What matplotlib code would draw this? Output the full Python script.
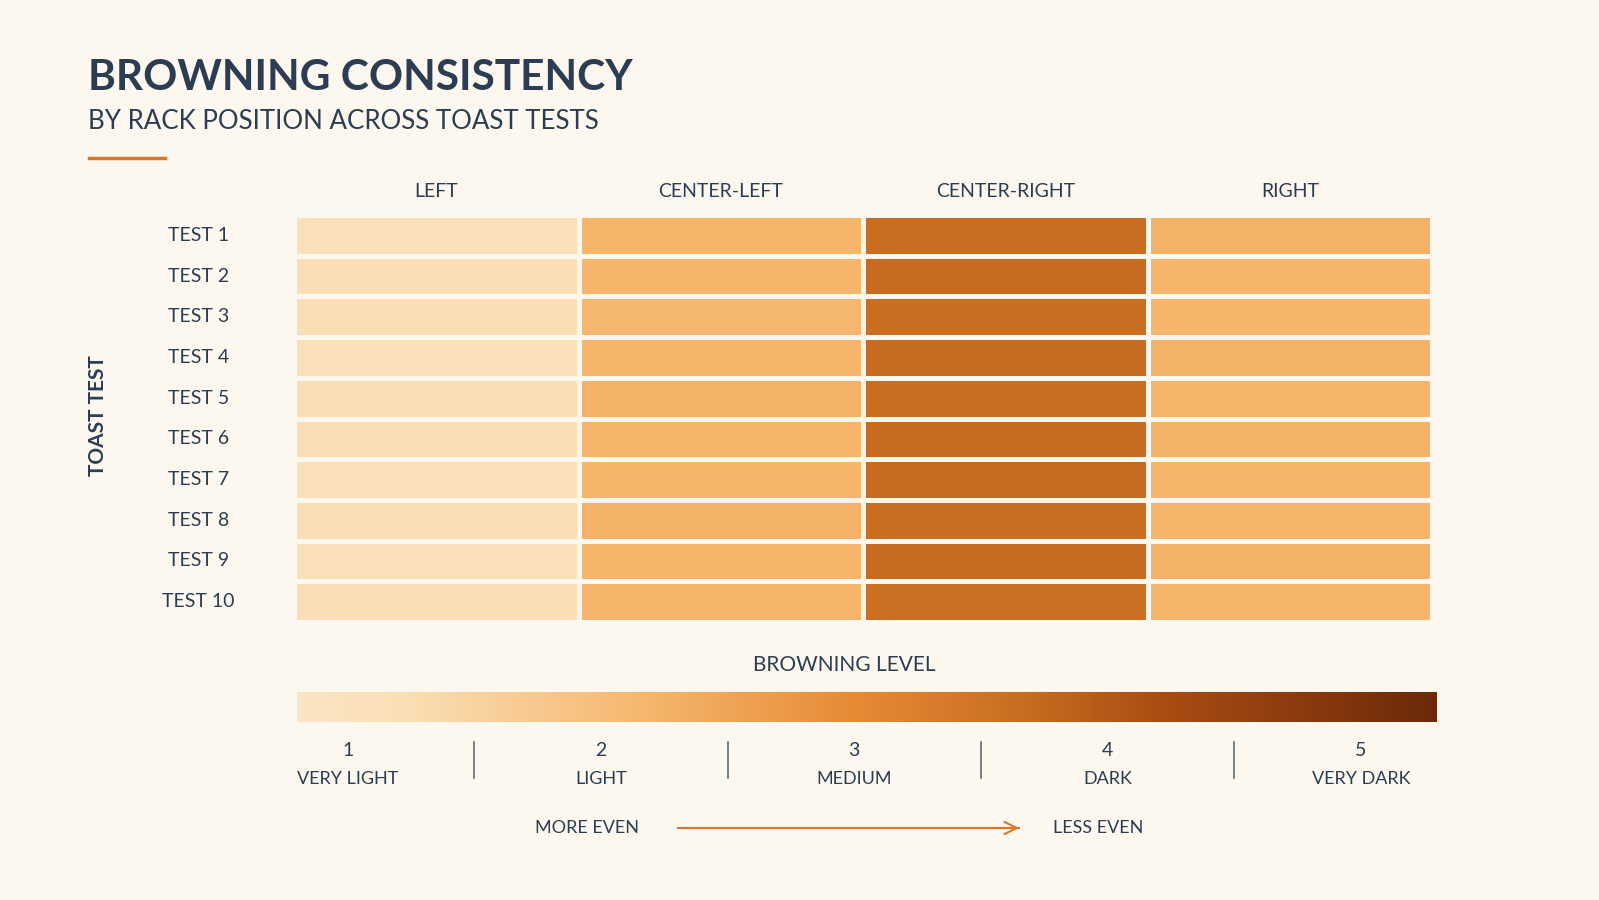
import numpy as np
import matplotlib.pyplot as plt
from matplotlib.colors import LinearSegmentedColormap, Normalize
from matplotlib.colorbar import ColorbarBase

plt.rcParams['font.family'] = ['Lato', 'DejaVu Sans']

# data
positions = ["LEFT", "CENTER-LEFT", "CENTER-RIGHT", "RIGHT"]
tests = ["TEST %d" % i for i in range(1, 11)]
left = [1.15, 1.2, 1.2, 1.15, 1.2, 1.2, 1.15, 1.2, 1.15, 1.2]
center_left = [2.2, 2.2, 2.15, 2.2, 2.25, 2.2, 2.2, 2.25, 2.2, 2.2]
center_right = [3.65, 3.7, 3.65, 3.7, 3.65, 3.7, 3.7, 3.65, 3.7, 3.6]
right = [2.25, 2.2, 2.2, 2.25, 2.2, 2.25, 2.2, 2.2, 2.25, 2.2]
levels = [1, 2, 3, 4, 5]
level_names = ["VERY LIGHT", "LIGHT", "MEDIUM", "DARK", "VERY DARK"]

BG = "#fcf8f0"
INK = "#2c3d52"
ACCENT = "#d9772b"

vmin, vmax = 0.8, 5.3
stops = [(0.8, "#fbe4c3"), (1.2, "#fadfb6"), (2.2, "#f5b56b"), (3.0, "#e68a34"),
         (3.65, "#c96e21"), (4.2, "#aa4d13"), (5.3, "#6c290a")]
cmap = LinearSegmentedColormap.from_list(
    "toast", [((v - vmin) / (vmax - vmin), c) for v, c in stops])
norm = Normalize(vmin, vmax)

grid = np.array([left, center_left, center_right, right]).T

fig = plt.figure(figsize=(15.99, 9), dpi=100, facecolor=BG)

# titles
fig.text(0.055, 0.9135, "BROWNING CONSISTENCY", fontsize=30.5, fontweight="bold",
         color=INK, va="center", ha="left")
fig.text(0.055, 0.8645, "BY RACK POSITION ACROSS TOAST TESTS", fontsize=18.6,
         color=INK, va="center", ha="left")
fig.add_artist(plt.Line2D([0.0555, 0.103], [0.8245, 0.8245], color=ACCENT, lw=2.5))

# heatmap
ax = fig.add_axes([0.1839, 0.3089, 0.7117, 0.4522])
ax.set_facecolor(BG)
ax.pcolormesh(grid, cmap=cmap, norm=norm, edgecolors=BG, linewidth=3.5)
ax.set_xlim(0, 4)
ax.set_ylim(10, 0)
for s in ax.spines.values():
    s.set_visible(False)
ax.set_xticks([])
ax.set_yticks([])
for j, p in enumerate(positions):
    ax.text(j + 0.5, -0.58, p, ha="center", va="center", fontsize=14, color=INK)
for i, t in enumerate(tests):
    ax.text(-0.337, i + 0.5, t, ha="center", va="center", fontsize=14, color=INK)
fig.text(0.061, 0.538, "TOAST TEST", rotation=90, ha="center", va="center",
         fontsize=15, fontweight="bold", color=INK)

# colour scale
cax = fig.add_axes([0.1857, 0.198, 0.7130, 0.033])
cb = ColorbarBase(cax, cmap=cmap, norm=norm, orientation="horizontal")
cb.outline.set_visible(False)
cax.set_xticks([])
cax.set_yticks([])
fig.text(0.528, 0.261, "BROWNING LEVEL", ha="center", va="center", fontsize=15,
         color=INK)

for k, (lv, nm) in enumerate(zip(levels, level_names)):
    cax.annotate(str(lv), xy=(lv, 0), xycoords=("data", "axes fraction"),
                 xytext=(0, -21), textcoords="offset points", ha="center",
                 va="center", fontsize=14, color=INK, annotation_clip=False)
    cax.annotate(nm, xy=(lv, 0), xycoords=("data", "axes fraction"),
                 xytext=(0, -41.5), textcoords="offset points", ha="center",
                 va="center", fontsize=13, color=INK, annotation_clip=False)
    if k < len(levels) - 1:
        cax.plot([lv + 0.5, lv + 0.5], [-0.67, -1.88], color="#5c6b7c", lw=1.2,
                 clip_on=False, transform=cax.get_xaxis_transform())

# evenness arrow
fig.text(0.367, 0.080, "MORE EVEN", ha="center", va="center", fontsize=13, color=INK)
fig.text(0.687, 0.080, "LESS EVEN", ha="center", va="center", fontsize=13, color=INK)
fig.add_artist(plt.Line2D([0.424, 0.637], [0.080, 0.080], color=ACCENT, lw=1.5))
fig.add_artist(plt.Annotation("", xy=(0.639, 0.080), xycoords="figure fraction",
                              xytext=(0.62, 0.080), textcoords="figure fraction",
                              arrowprops=dict(arrowstyle="->", color=ACCENT, lw=1.5,
                                              mutation_scale=22)))

fig.savefig("out.png", dpi=100, facecolor=BG)
